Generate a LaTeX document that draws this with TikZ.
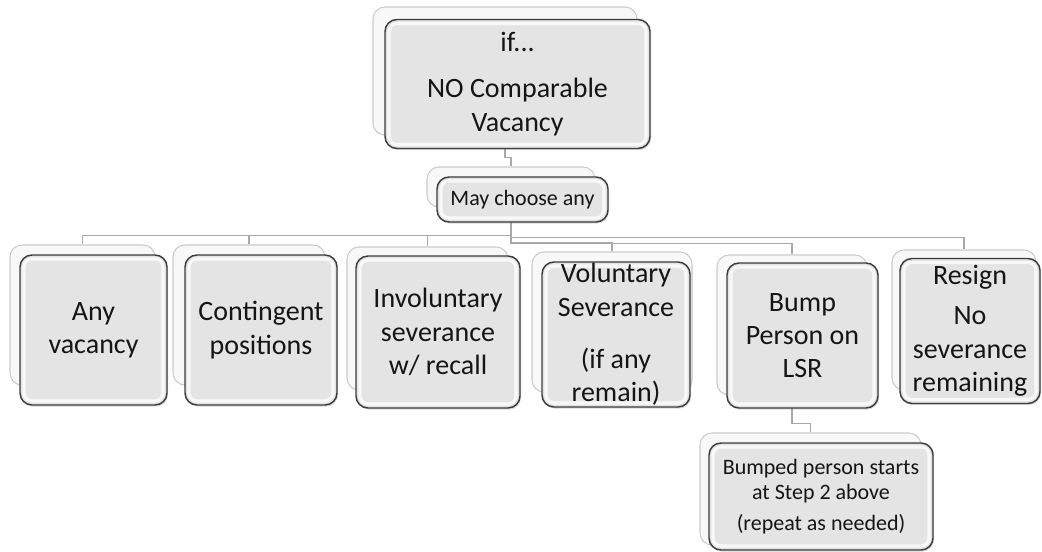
\documentclass[tikz,border=0pt]{standalone}
\usepackage{fontspec}
\setmainfont{Carlito}
\usetikzlibrary{positioning, backgrounds, shadows}
\definecolor{cardface}{HTML}{E4E4E4}
\definecolor{cardback}{HTML}{F8F8F8}
\definecolor{cardedge}{HTML}{3C3C3C}
\definecolor{backedge}{HTML}{CBCBCB}
\definecolor{linkgray}{HTML}{A8A8A8}
\definecolor{inktext}{HTML}{151515}

\begin{document}
\begin{tikzpicture}[x=0.75pt, y=-0.75pt,
  boxsize/.style 2 args={minimum width=#1*0.75pt, minimum height=#2*0.75pt},
  backcard/.style={draw=backedge, fill=cardback, line width=0.8pt, rounded corners=9pt, inner sep=0pt,
    drop shadow={opacity=0.15, shadow xshift=0.6pt, shadow yshift=-0.8pt}},
  facecard/.style={draw=cardedge, fill=cardface, line width=1.1pt, rounded corners=9pt, inner sep=0pt,
    align=center, text=inktext, drop shadow={opacity=0.3, shadow xshift=0.8pt, shadow yshift=-1.2pt},
    path picture={\draw[white, opacity=0.75, line width=2.4pt, rounded corners=6pt]
      ([shift={(3pt,-3pt)}]path picture bounding box.north west) rectangle
      ([shift={(-3pt,3pt)}]path picture bounding box.south east);}},
  kidfont/.style={font=\fontsize{21}{25}\selectfont},
  link/.style={linkgray, line width=1.3pt}]

% Canvas
\useasboundingbox (0,0) rectangle (1042,552);

% Top card
\node[backcard, boxsize={264}{128}] (topB) at (505,71) {};
\node[facecard, boxsize={265}{129}, font=\fontsize{21}{25.5}\selectfont] (top) at (517.5,84)
  {if...\\[9pt]NO Comparable\\Vacancy};

% Choice card
\node[backcard, boxsize={168}{40}] (mayB) at (511,187) {};
\node[facecard, boxsize={171}{45}, font=\fontsize{16.5}{19}\selectfont] (may) at (522.5,199.5) {May choose any};

% Options
\node[backcard, boxsize={145}{140}] (anyB) at (82.5,315) {};
\node[facecard, kidfont, boxsize={147}{150}] (any) at (93.5,330) {Any\\vacancy};

\node[backcard, boxsize={152}{140}] (contB) at (249,315) {};
\node[facecard, kidfont, boxsize={152}{150}] (cont) at (261,330) {Contingent\\positions};

\node[backcard, boxsize={161}{143}] (involB) at (427.5,318.5) {};
\node[facecard, kidfont, boxsize={164}{152}] (invol) at (438,332) {Involuntary\\severance\\w/ recall};

\node[backcard, boxsize={160}{140}] (volB) at (612,322) {};
\node[facecard, kidfont, boxsize={148}{145}] (vol) at (616,334.5) {Voluntary\\Severance\\[14pt](if any\\remain)};

\node[backcard, boxsize={150}{140}] (bumpB) at (792,325) {};
\node[facecard, kidfont, boxsize={151}{145}] (bump) at (802.5,335.5) {Bump\\Person on\\LSR};

\node[backcard, boxsize={144}{140}] (resignB) at (964,320) {};
\node[facecard, kidfont, boxsize={140}{145}] (resign) at (970,331) {Resign\\[5pt]No\\severance\\remaining};

% Follow-up card
\node[backcard, boxsize={221}{112}] (bumpedB) at (810.5,489) {};
\node[facecard, boxsize={224}{107}, font=\fontsize{16.5}{19}\selectfont] (bumped) at (821,496.5)
  {Bumped person starts\\at Step 2 above\\[4pt](repeat as needed)};

% Connectors
\begin{scope}[on background layer]
\draw[link] (topB.south) -- ++(0,22) -| (mayB.north);
\foreach \kid in {anyB, contB, involB}
  \draw[link] (mayB.south) -- ++(0,28) -| (\kid.north);
\draw[link] (mayB.south) -- ++(0,35) -| (volB.north);
\draw[link] (mayB.south) -- ++(0,36) -| (bumpB.north);
\draw[link] (mayB.south) -- ++(0,30) -| (resignB.north);
\draw[link] (bumpB.south) -- ++(0,28) -| (bumpedB.north);
\end{scope}

\end{tikzpicture}
\end{document}
